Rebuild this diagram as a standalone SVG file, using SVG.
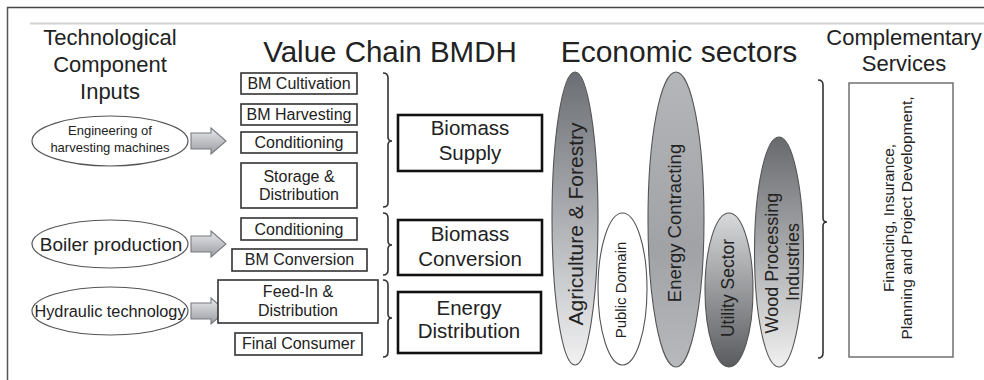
<svg xmlns="http://www.w3.org/2000/svg" width="984" height="380" viewBox="0 0 984 380">
<defs>
<linearGradient id="gAgri" x1="0" y1="0" x2="0" y2="1">
<stop offset="0" stop-color="#6b6e73"/><stop offset="0.45" stop-color="#a6a8ad"/><stop offset="1" stop-color="#f2f2f3"/>
</linearGradient>
<linearGradient id="gEnergy" x1="0" y1="0" x2="0" y2="1">
<stop offset="0" stop-color="#b4b6ba"/><stop offset="0.6" stop-color="#a0a2a6"/><stop offset="1" stop-color="#b8b9bc"/>
</linearGradient>
<linearGradient id="gUtil" x1="0" y1="0" x2="0" y2="1">
<stop offset="0" stop-color="#d8d9db"/><stop offset="1" stop-color="#5a5b5e"/>
</linearGradient>
<linearGradient id="gWood" x1="0" y1="0" x2="0" y2="1">
<stop offset="0" stop-color="#67696d"/><stop offset="1" stop-color="#f0f0f0"/>
</linearGradient>
<linearGradient id="gArrow" x1="0" y1="0" x2="0" y2="1">
<stop offset="0" stop-color="#e8e9ec"/><stop offset="1" stop-color="#9a9ca2"/>
</linearGradient>
<path id="blockArrow" d="M0,-8 L20,-8 L20,-13 L35,0 L20,13 L20,8 L0,8 Z"/>
</defs>
<style>
text{font-family:"Liberation Sans",Arial,sans-serif;fill:#222;}
.title{font-size:22px;text-anchor:middle;}
.big{font-size:30px;text-anchor:middle;}
.small{font-size:16px;text-anchor:middle;}
.mid{font-size:20.5px;text-anchor:middle;}
.sbox{fill:#fff;stroke:#333;stroke-width:1.6;}
.bbox{fill:#fff;stroke:#111;stroke-width:2.6;}
.inp{fill:#fff;stroke:#555;stroke-width:1.2;}
.sec{stroke:#555;stroke-width:1.1;}
.brace{fill:none;stroke:#333;stroke-width:1.6;}
.arrow{fill:url(#gArrow);stroke:#777a80;stroke-width:1.1;}
.rot{text-anchor:middle;}
</style>
<g id="frame">
<line x1="7" y1="7.5" x2="984" y2="7.5" stroke="#444" stroke-width="1.5"/>
<line x1="7.5" y1="7" x2="7.5" y2="380" stroke="#555" stroke-width="1.5"/>
<line x1="30" y1="23.5" x2="984" y2="23.5" stroke="#d2d2d2" stroke-width="2"/>
</g>
<g id="titles">
<text class="title" x="110" y="45">Technological</text>
<text class="title" x="110" y="72">Component</text>
<text class="title" x="110" y="99">Inputs</text>
<text class="big" x="390" y="62" style="font-size:29.5px">Value Chain BMDH</text>
<text class="big" x="679" y="62">Economic sectors</text>
<text class="title" x="904" y="45">Complementary</text>
<text class="title" x="904" y="71">Services</text>
</g>
<g id="input-engineering">
<ellipse class="inp" cx="110" cy="141" rx="78" ry="25"/>
<text x="110" y="135" style="font-size:13px;text-anchor:middle">Engineering of</text>
<text x="110" y="152" style="font-size:13px;text-anchor:middle">harvesting machines</text>
</g>
<g id="input-boiler">
<ellipse class="inp" cx="110" cy="244" rx="78" ry="24"/>
<text x="111" y="251" style="font-size:19px;text-anchor:middle">Boiler production</text>
</g>
<g id="input-hydraulic">
<ellipse class="inp" cx="110" cy="311" rx="78" ry="24"/>
<text x="110" y="317" style="font-size:16.3px;text-anchor:middle">Hydraulic technology</text>
</g>
<g id="connectors">
<use href="#blockArrow" class="arrow" x="191" y="141"/>
<use href="#blockArrow" class="arrow" x="191" y="244"/>
<use href="#blockArrow" class="arrow" x="191" y="311"/>
<path class="brace" d="M383,73 Q388,73 388,78 L388,137 Q388,141 392,141 Q388,141 388,145 L388,203 Q388,207 383,207"/>
<path class="brace" d="M383,213 Q388,213 388,218 L388,241 Q388,245 392,245 Q388,245 388,249 L388,270 Q388,275 383,275"/>
<path class="brace" d="M383,280 Q388,280 388,285 L388,314 Q388,318 392,318 Q388,318 388,322 L388,352 Q388,357 383,357"/>
<path class="brace" d="M818,80 Q823,80 823,85 L823,218 Q823,222 827,222 Q823,222 823,226 L823,353 Q823,358 818,358"/>
</g>
<g id="step-bm-cultivation">
<rect class="sbox" x="241" y="73" width="116" height="21"/>
<text class="small" x="299" y="89">BM Cultivation</text>
</g>
<g id="step-bm-harvesting">
<rect class="sbox" x="241" y="104" width="116" height="21"/>
<text class="small" x="299" y="120">BM Harvesting</text>
</g>
<g id="step-conditioning-1">
<rect class="sbox" x="241" y="132" width="116" height="21"/>
<text class="small" x="299" y="148">Conditioning</text>
</g>
<g id="step-storage">
<rect class="sbox" x="241" y="163" width="116" height="45"/>
<text class="small" x="299" y="182">Storage &amp;</text>
<text class="small" x="299" y="200">Distribution</text>
</g>
<g id="step-conditioning-2">
<rect class="sbox" x="241" y="218" width="116" height="22"/>
<text class="small" x="299" y="235">Conditioning</text>
</g>
<g id="step-bm-conversion">
<rect class="sbox" x="232" y="249" width="135" height="22"/>
<text class="small" x="299.5" y="265">BM Conversion</text>
</g>
<g id="step-feed-in">
<rect class="sbox" x="218" y="280" width="160" height="43"/>
<text class="small" x="298" y="297">Feed-In &amp;</text>
<text class="small" x="298" y="316">Distribution</text>
</g>
<g id="step-final-consumer">
<rect class="sbox" x="235" y="333" width="127" height="22"/>
<text class="small" x="298.5" y="349">Final Consumer</text>
</g>
<g id="stage-biomass-supply">
<rect class="bbox" x="398" y="115" width="144" height="56"/>
<text class="mid" x="470" y="135">Biomass</text>
<text class="mid" x="470" y="160">Supply</text>
</g>
<g id="stage-biomass-conversion">
<rect class="bbox" x="398" y="220" width="144" height="55"/>
<text class="mid" x="470" y="241">Biomass</text>
<text class="mid" x="470" y="266">Conversion</text>
</g>
<g id="stage-energy-distribution">
<rect class="bbox" x="398" y="292" width="143" height="61"/>
<text class="mid" x="469" y="315">Energy</text>
<text class="mid" x="469" y="338">Distribution</text>
</g>
<g id="sector-agriculture">
<ellipse class="sec" cx="575" cy="218.5" rx="23" ry="146.5" fill="url(#gAgri)"/>
<text class="rot" transform="translate(583,224) rotate(-90)" style="font-size:21px">Agriculture &amp; Forestry</text>
</g>
<g id="sector-public">
<ellipse class="sec" cx="622.5" cy="289" rx="24.5" ry="76" fill="#fff" stroke="#777"/>
<text class="rot" transform="translate(626,290) rotate(-90)" style="font-size:15px">Public Domain</text>
</g>
<g id="sector-energy">
<ellipse class="sec" cx="676" cy="219.5" rx="28" ry="147.5" fill="url(#gEnergy)"/>
<text class="rot" transform="translate(681,223) rotate(-90)" style="font-size:18.5px">Energy Contracting</text>
</g>
<g id="sector-utility">
<ellipse class="sec" cx="729" cy="290" rx="24" ry="77" fill="url(#gUtil)"/>
<text class="rot" transform="translate(734,288) rotate(-90)" style="font-size:17.5px">Utility Sector</text>
</g>
<g id="sector-wood">
<ellipse class="sec" cx="779" cy="252" rx="24.5" ry="115" fill="url(#gWood)"/>
<text class="rot" transform="translate(778,263) rotate(-90)" style="font-size:18px">Wood Processing</text>
<text class="rot" transform="translate(799,262) rotate(-90)" style="font-size:18px">Industries</text>
</g>
<g id="complementary-services">
<rect x="849" y="83" width="104" height="274" fill="#fff" stroke="#666" stroke-width="1.4"/>
<text class="rot" transform="translate(894,218) rotate(-90)" style="font-size:15.5px">Financing, Insurance,</text>
<text class="rot" transform="translate(912,218) rotate(-90)" style="font-size:15.5px">Planning and Project Development,</text>
</g>
</svg>
